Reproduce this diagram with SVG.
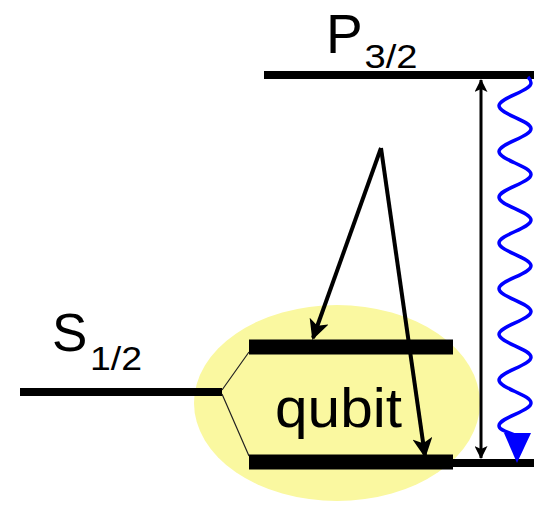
<svg xmlns="http://www.w3.org/2000/svg" width="534" height="506" viewBox="0 0 534 506">
<defs>
<style>
.lvl{stroke:#000;stroke-width:8;fill:none}
.bar{stroke:#000;stroke-width:15;fill:none}
.thin{stroke:#222;stroke-width:1.2;fill:none}
.lbl{font-family:"Liberation Sans",Arial,sans-serif;fill:#000}
.arr{stroke:#000;stroke-width:4;fill:none}
</style>
<marker id="ah" viewBox="0 0 20 20" refX="18" refY="10" markerWidth="20" markerHeight="20" markerUnits="userSpaceOnUse" orient="auto">
<path d="M0,0 L20,10 L0,20 L5,10 Z" fill="#000"/>
</marker>
<marker id="ahs" viewBox="0 0 13 13" refX="12" refY="6.5" markerWidth="13" markerHeight="13" markerUnits="userSpaceOnUse" orient="auto-start-reverse">
<path d="M0,0 L13,6.5 L0,13 L3,6.5 Z" fill="#000"/>
</marker>
</defs>
<rect width="534" height="506" fill="#fff"/>
<g id="qubit-region">
<ellipse cx="337" cy="403" rx="143" ry="98" fill="#faf8a0"/>
</g>
<g id="P32">
<line class="lvl" x1="264" y1="75" x2="534" y2="75"/>
<text class="lbl" x="326" y="53" font-size="55">P</text>
<text class="lbl" x="364.5" y="68" font-size="33" textLength="53" lengthAdjust="spacingAndGlyphs">3/2</text>
</g>
<g id="S12">
<line class="lvl" x1="20" y1="392" x2="222" y2="392"/>
<text class="lbl" x="52" y="351" font-size="53">S</text>
<text class="lbl" x="90" y="370" font-size="33" textLength="52" lengthAdjust="spacingAndGlyphs">1/2</text>
</g>
<g id="qubit-upper">
<line class="bar" x1="249" y1="347" x2="453" y2="347"/>
</g>
<g id="qubit-lower">
<line class="bar" x1="249" y1="462" x2="453" y2="462"/>
<line class="lvl" x1="453" y1="463" x2="534" y2="463"/>
</g>
<g id="qubit-label">
<text class="lbl" x="275" y="427" font-size="55" textLength="127" lengthAdjust="spacingAndGlyphs">qubit</text>
</g>
<g id="connectors">
<path class="thin" d="M222,390 L249,352 M222,394 L249,456"/>
<line class="arr" x1="381" y1="148" x2="313" y2="338" marker-end="url(#ah)"/>
<line class="arr" x1="381" y1="148" x2="425" y2="456" marker-end="url(#ah)"/>
<line stroke="#000" stroke-width="3" x1="481" y1="80" x2="481" y2="458" marker-start="url(#ahs)" marker-end="url(#ahs)"/>
<path fill="none" stroke="#0000ff" stroke-width="3.5" d="M528,77 C530,79 531,81 531,83 C531,91.3 499,97.5 499,105.85 C499,114.2 531,120.4 531,128.7 C531,137 499,143.2 499,151.55 C499,159.9 531,166.1 531,174.4 C531,182.7 499,188.9 499,197.25 C499,205.6 531,211.8 531,220.1 C531,228.4 499,234.6 499,242.95 C499,251.3 531,257.5 531,265.8 C531,274.1 499,280.3 499,288.65 C499,297 531,303.2 531,311.5 C531,319.8 499,326 499,334.35 C499,342.7 531,348.9 531,357.2 C531,365.5 499,371.7 499,380.05 C499,388.4 531,394.6 531,402.9 C531,411.2 499,417.4 499,425.75 C499,431 510,432 517,436"/>
<path d="M504,433 L531,433 L517,463 Z" fill="#0000ff"/>
</g>
</svg>
